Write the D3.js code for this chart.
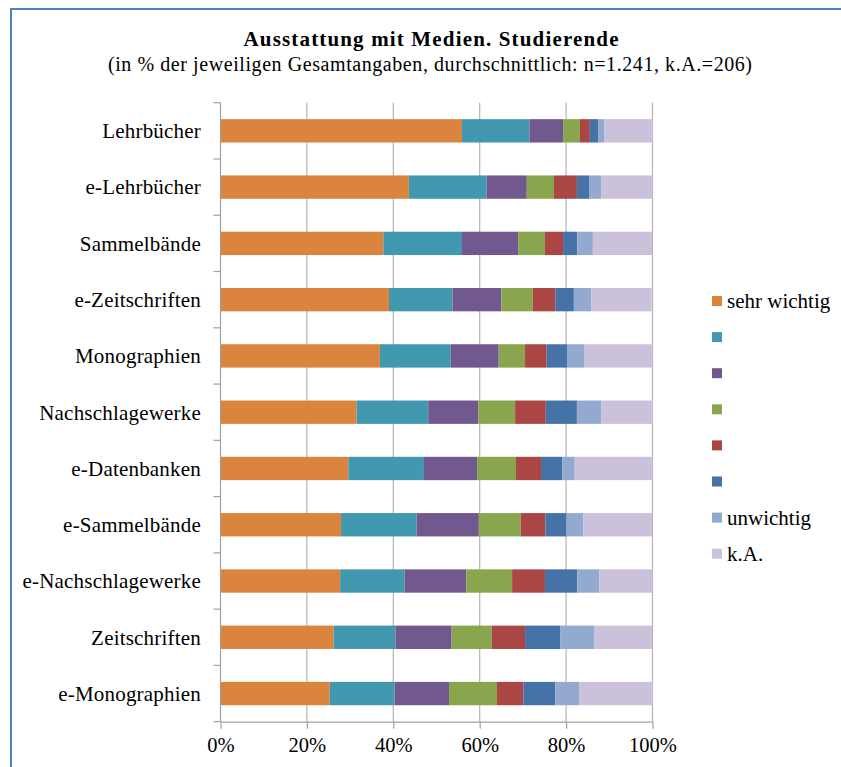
<!DOCTYPE html>
<html>
<head>
<meta charset="utf-8">
<style>
  body { margin: 0; background: #fff; }
  svg { display: block; font-family: "Liberation Serif", "Times New Roman", serif; }
</style>
</head>
<body>
<svg width="841" height="767"></svg>
<script src="https://cdn.jsdelivr.net/npm/d3@7"></script>
<script>

var categories = ["Lehrbücher", "e-Lehrbücher", "Sammelbände", "e-Zeitschriften", "Monographien",
  "Nachschlagewerke", "e-Datenbanken", "e-Sammelbände", "e-Nachschlagewerke", "Zeitschriften", "e-Monographien"];

// one array per answer level, same order as categories (percent)
var stufe1 = [55.9, 43.6, 37.7, 39.0, 36.9, 31.5, 29.6, 27.9, 27.7, 26.2, 25.3];
var stufe2 = [15.6, 18.0, 18.2, 14.7, 16.4, 16.6, 17.5, 17.5, 14.9, 14.3, 15.0];
var stufe3 = [7.8, 9.3, 13.0, 11.3, 11.1, 11.6, 12.3, 14.4, 14.3, 13.0, 12.6];
var stufe4 = [3.9, 6.3, 6.2, 7.3, 6.1, 8.5, 9.0, 9.7, 10.6, 9.3, 11.1];
var stufe5 = [2.3, 5.3, 4.2, 5.2, 5.0, 7.1, 5.8, 5.7, 7.6, 7.7, 6.1];
var stufe6 = [1.9, 2.8, 3.3, 4.3, 4.7, 7.2, 4.9, 4.9, 7.5, 8.1, 7.4];
var stufe7 = [1.5, 2.9, 3.6, 4.0, 4.1, 5.7, 2.9, 3.9, 5.1, 8.0, 5.5];
var keineAngabe = [11.2, 11.8, 13.7, 14.0, 15.7, 11.9, 18.0, 15.9, 12.3, 13.3, 17.1];

var seriesNames = ["sehr wichtig", "", "", "", "", "", "unwichtig", "k.A."];
var seriesColors = ["#DB843D", "#4198AF", "#71588F", "#89A54E", "#AA4643", "#4572A7", "#93A9CF", "#CCC1DA"];
var xTicks = [0, 20, 40, 60, 80, 100];

var allSeries = [stufe1, stufe2, stufe3, stufe4, stufe5, stufe6, stufe7, keineAngabe];
var keys = allSeries.map(function(d, i) { return "s" + i; });

var rows = categories.map(function(c, j) {
  var r = {cat: c};
  allSeries.forEach(function(s, i) { r[keys[i]] = s[j]; });
  return r;
});

var svg = d3.select("svg");

// outer frame
svg.append("rect")
  .attr("x", 11).attr("y", 9)
  .attr("width", 900).attr("height", 900)
  .attr("fill", "none")
  .attr("stroke", "#4F81BD")
  .attr("stroke-width", 2);

svg.append("text")
  .attr("x", 431).attr("y", 46)
  .attr("text-anchor", "middle")
  .attr("font-size", 21)
  .attr("font-weight", "bold")
  .attr("textLength", 375)
  .attr("lengthAdjust", "spacing")
  .text("Ausstattung mit Medien. Studierende");

svg.append("text")
  .attr("x", 430).attr("y", 71)
  .attr("text-anchor", "middle")
  .attr("font-size", 20)
  .attr("textLength", 644)
  .attr("lengthAdjust", "spacing")
  .text("(in % der jeweiligen Gesamtangaben, durchschnittlich: n=1.241, k.A.=206)");

var x = d3.scaleLinear().domain([0, 100]).range([220.5, 652.5]);
var y = d3.scaleBand().domain(categories).range([102.7, 721.7])
  .paddingInner(0.585).paddingOuter(0.2925);

// grid
svg.append("g").selectAll("line")
  .data(xTicks.slice(1))
  .enter().append("line")
    .attr("x1", function(d) { return x(d); })
    .attr("x2", function(d) { return x(d); })
    .attr("y1", 102.7).attr("y2", 721.7)
    .attr("stroke", "#B4B4B4")
    .attr("stroke-width", 1.2);

var stack = d3.stack().keys(keys);
var layers = stack(rows);

svg.append("g").selectAll("g")
  .data(layers)
  .enter().append("g")
    .attr("fill", function(d, i) { return seriesColors[i]; })
  .selectAll("rect")
  .data(function(d) { return d; })
  .enter().append("rect")
    .attr("x", function(d) { return x(d[0]); })
    .attr("width", function(d) { return x(d[1]) - x(d[0]); })
    .attr("y", function(d) { return y(d.data.cat); })
    .attr("height", y.bandwidth());

// x axis
var xAxis = svg.append("g")
  .attr("transform", "translate(0,721.7)")
  .call(d3.axisBottom(x).tickValues(xTicks).tickFormat(function(d) { return d + "%"; })
    .tickSize(7).tickSizeOuter(0).tickPadding(9));
xAxis.select(".domain").attr("stroke", "#A0A0A0").attr("stroke-width", 1.2);
xAxis.selectAll(".tick line").attr("stroke", "#A0A0A0").attr("stroke-width", 1.2);
xAxis.selectAll("text").attr("font-size", 20.5).attr("fill", "#000")
  .attr("font-family", "Liberation Serif, serif");

// y axis line + ticks on band edges
var yAxis = svg.append("g");
yAxis.append("line")
  .attr("x1", x(0)).attr("x2", x(0))
  .attr("y1", 102.7).attr("y2", 721.7)
  .attr("stroke", "#A0A0A0").attr("stroke-width", 1.2);
var edges = d3.range(categories.length + 1).map(function(i) { return y.range()[0] + i * y.step(); });
yAxis.selectAll(".yt")
  .data(edges)
  .enter().append("line")
    .attr("x1", x(0) - 7).attr("x2", x(0))
    .attr("y1", function(d) { return d; })
    .attr("y2", function(d) { return d; })
    .attr("stroke", "#A0A0A0").attr("stroke-width", 1.2);
yAxis.selectAll("text")
  .data(categories)
  .enter().append("text")
    .attr("x", 201)
    .attr("y", function(d) { return y(d) + y.bandwidth() / 2; })
    .attr("dy", "0.35em")
    .attr("text-anchor", "end")
    .attr("font-size", 21)
    .attr("letter-spacing", 0.2)
    .text(function(d) { return d; });

// legend
var legend = svg.append("g").selectAll("g")
  .data(seriesNames)
  .enter().append("g")
    .attr("transform", function(d, i) { return "translate(712," + (301 + i * 36.1) + ")"; });
legend.append("rect")
  .attr("x", 0).attr("y", -5)
  .attr("width", 10).attr("height", 10)
  .attr("fill", function(d, i) { return seriesColors[i]; });
legend.append("text")
  .attr("x", 15).attr("dy", "0.35em")
  .attr("font-size", 21)
  .text(function(d) { return d; });

</script>
</body>
</html>
